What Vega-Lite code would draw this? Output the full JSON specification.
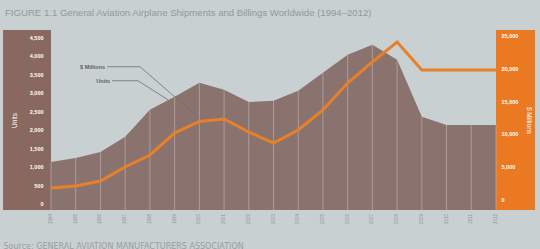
{
  "$schema": "https://vega.github.io/schema/vega-lite/v6.json",
  "width": 445,
  "height": 180,
  "autosize": {"type": "none"},
  "padding": {"left": 51, "top": 30, "right": 44, "bottom": 39},
  "background": "#c9d0d1",
  "config": {
    "view": {"stroke": null},
    "font": "Liberation Sans"
  },
  "title": {
    "text": "FIGURE 1.1  General Aviation Airplane Shipments and Billings Worldwide (1994–2012)",
    "anchor": "start", "frame": "group", "dx": -46, "offset": 7, "baseline": "middle",
    "fontSize": 9.6, "fontWeight": "normal", "color": "#8f9a9b"
  },
  "datasets": {
    "gama": [
      {"year": 1994, "units": 1130, "billings": 1700},
      {"year": 1995, "units": 1240, "billings": 2000},
      {"year": 1996, "units": 1400, "billings": 2760},
      {"year": 1997, "units": 1810, "billings": 4900},
      {"year": 1998, "units": 2540, "billings": 6740},
      {"year": 1999, "units": 2890, "billings": 10100},
      {"year": 2000, "units": 3270, "billings": 11870},
      {"year": 2001, "units": 3080, "billings": 12250},
      {"year": 2002, "units": 2750, "billings": 10260},
      {"year": 2003, "units": 2780, "billings": 8570},
      {"year": 2004, "units": 3050, "billings": 10560},
      {"year": 2005, "units": 3540, "billings": 13630},
      {"year": 2006, "units": 4020, "billings": 17760},
      {"year": 2007, "units": 4290, "billings": 20980},
      {"year": 2008, "units": 3890, "billings": 24040},
      {"year": 2009, "units": 2350, "billings": 19750},
      {"year": 2010, "units": 2130, "billings": 19750},
      {"year": 2011, "units": 2130, "billings": 19750},
      {"year": 2012, "units": 2130, "billings": 19750}
    ],
    "leaders": [
      {"year_from": 1996.27, "value_from": 3699, "year_to": 1997.6, "value_to": 3699},
      {"year_from": 1997.6, "value_from": 3699, "year_to": 1999.99, "value_to": 2322},
      {"year_from": 1996.47, "value_from": 3321, "year_to": 1997.52, "value_to": 3321},
      {"year_from": 1997.52, "value_from": 3321, "year_to": 1998.73, "value_to": 2808}
    ],
    "notes": [
      {"label": "$ Millions", "year": 1996.19, "value": 3699},
      {"label": "Units", "year": 1996.39, "value": 3321}
    ]
  },
  "layer": [
    {
      "layer": [
        {
          "data": {"name": "gama"},
          "mark": {"type": "area", "color": "#8a736f", "opacity": 1},
          "encoding": {
            "x": {
              "field": "year", "type": "quantitative",
              "scale": {"domain": [1994, 2012], "nice": false, "zero": false},
              "axis": {
                "labels": false, "ticks": false, "domain": false, "grid": false,
                "title": "Source:  GENERAL AVIATION MANUFACTURERS ASSOCIATION",
                "titleX": -48, "titleY": 36, "titleAlign": "left", "titleBaseline": "middle",
                "titleFontSize": 8, "titleFontWeight": "normal", "titleColor": "#97a0a1", "titleFont": "DejaVu Sans"
              }
            },
            "y": {
              "field": "units", "type": "quantitative",
              "scale": {"domain": [-162, 4689], "nice": false, "zero": false},
              "axis": {
                "orient": "left", "zindex": 1,
                "values": [0,500,1000,1500,2000,2500,3000,3500,4000,4500],
                "tickCount": 10,
                "labelExpr": "datum.value >= 1000 ? floor(datum.value / 1000) + ',' + slice('00' + toString(datum.value % 1000), -3) : toString(datum.value)",
                "labelOverlap": false,
                "labelColor": "#ffffff", "labelFontSize": 5.5, "labelFontWeight": "bold",
                "labelPadding": 8, "ticks": false, "domain": false, "grid": false,
                "title": "Units", "titleColor": "#ffffff", "titleFontSize": 6.5, "titleFontWeight": "normal",
                "titleX": -37, "titleY": 90, "titleAngle": -90, "titleAlign": "center", "titleBaseline": "middle"
              }
            },
            "y2": {"datum": -162}
          }
        },
        {
          "data": {"values": [{}]},
          "mark": {"type": "rect", "color": "#88685f"},
          "encoding": {
            "x": {"datum": 1992.06, "type": "quantitative"},
            "x2": {"datum": 1994},
            "y": {"datum": -162, "type": "quantitative"},
            "y2": {"datum": 4689}
          }
        },
        {
          "data": {"values": [{}]},
          "mark": {"type": "rect", "color": "#ea7922"},
          "encoding": {
            "x": {"datum": 2012, "type": "quantitative"},
            "x2": {"datum": 2013.58},
            "y": {"datum": -162, "type": "quantitative"},
            "y2": {"datum": 4689}
          }
        },
        {
          "data": {"name": "gama"},
          "mark": {"type": "rule", "color": "#c4b3af", "opacity": 0.7, "strokeWidth": 0.9},
          "encoding": {
            "x": {"field": "year", "type": "quantitative"},
            "y": {"field": "units", "type": "quantitative"},
            "y2": {"datum": -162}
          }
        },
        {
          "data": {"name": "gama"},
          "mark": {"type": "text", "angle": 270, "align": "right", "baseline": "middle", "fontSize": 4.5, "color": "#8c9696"},
          "encoding": {
            "x": {"field": "year", "type": "quantitative"},
            "y": {"datum": -270, "type": "quantitative"},
            "text": {"field": "year", "type": "nominal"}
          }
        },
        {
          "data": {"name": "leaders"},
          "mark": {"type": "rule", "color": "#6a6f70", "strokeWidth": 0.8},
          "encoding": {
            "x": {"field": "year_from", "type": "quantitative"},
            "x2": {"field": "year_to"},
            "y": {"field": "value_from", "type": "quantitative"},
            "y2": {"field": "value_to"}
          }
        },
        {
          "data": {"name": "notes"},
          "mark": {"type": "text", "align": "right", "baseline": "middle", "fontSize": 5.5, "fontWeight": "bold", "color": "#5d6263"},
          "encoding": {
            "x": {"field": "year", "type": "quantitative"},
            "y": {"field": "value", "type": "quantitative"},
            "text": {"field": "label"}
          }
        }
      ]
    },
    {
      "data": {"name": "gama"},
      "mark": {"type": "line", "color": "#e8802a", "strokeWidth": 3},
      "encoding": {
        "x": {"field": "year", "type": "quantitative"},
        "y": {
          "field": "billings", "type": "quantitative",
          "scale": {"domain": [-1684, 25873], "nice": false, "zero": false},
          "axis": {
            "orient": "right", "zindex": 1,
            "values": [0,5000,10000,15000,20000,25000],
            "tickCount": 6,
            "labelExpr": "datum.value >= 1000 ? floor(datum.value / 1000) + ',' + slice('00' + toString(datum.value % 1000), -3) : toString(datum.value)",
            "labelOverlap": false,
            "labelColor": "#ffffff", "labelFontSize": 5.5, "labelFontWeight": "bold",
            "labelPadding": 5, "ticks": false, "domain": false, "grid": false,
            "title": "$ Millions", "titleColor": "#ffffff", "titleFontSize": 6.5, "titleFontWeight": "normal",
            "titleX": 32, "titleY": 90, "titleAngle": 90, "titleAlign": "center", "titleBaseline": "middle"
          }
        }
      }
    }
  ],
  "resolve": {"scale": {"y": "independent"}}
}
